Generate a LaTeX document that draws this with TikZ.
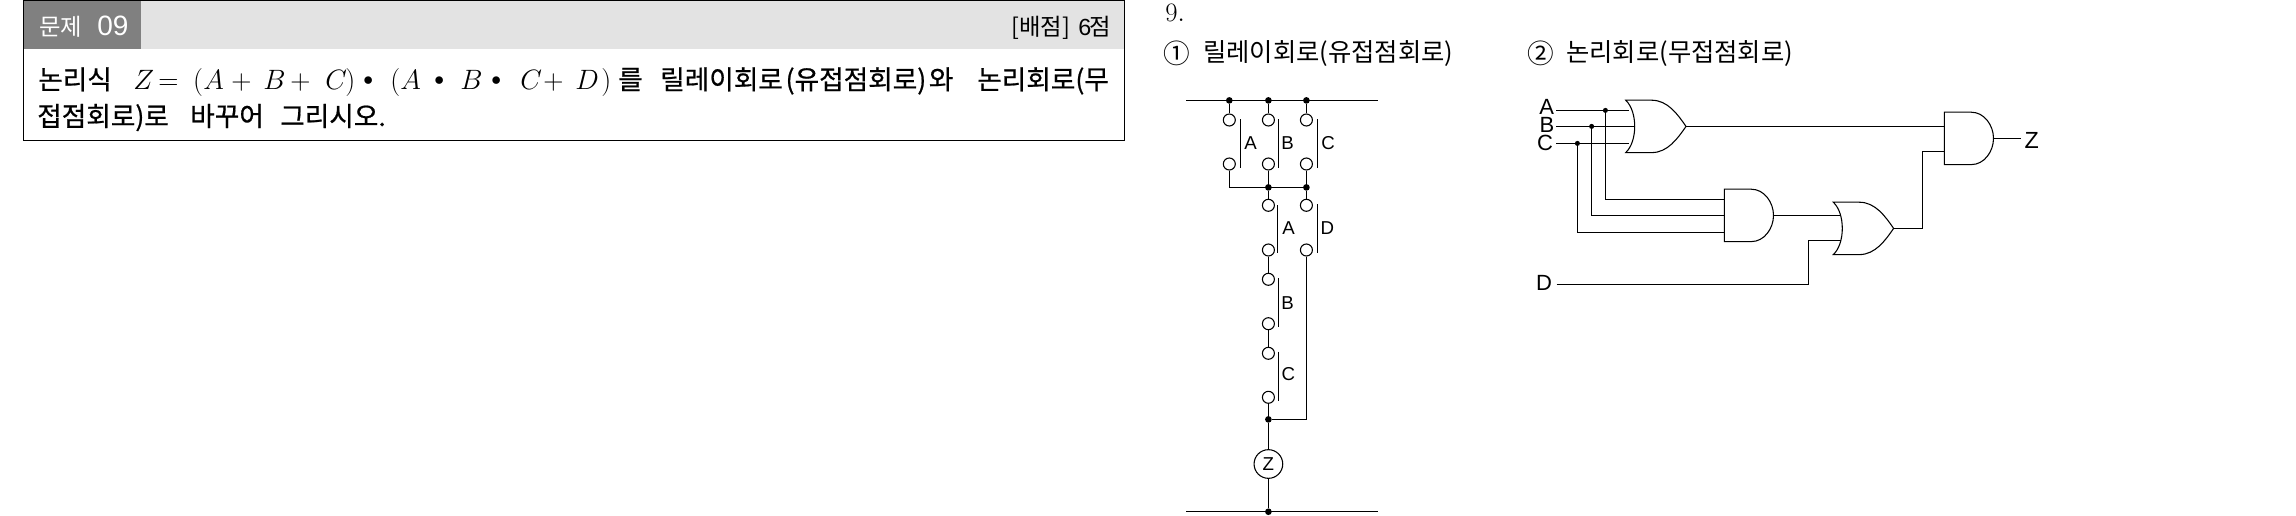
\documentclass[tikz,border=0pt]{standalone}
\usepackage{fix-cm}
\usepackage{fontspec}
\setmainfont{Liberation Sans}
\newfontfamily\krfont{Noto Sans CJK KR}
\newfontfamily\krheavy[FakeBold=0.7]{Noto Sans CJK KR}

\tikzset{
  wire/.style={line width=0.8pt},
  contact/.style={circle,draw,line width=0.8pt,fill=white,minimum size=9pt,inner sep=0pt},
  junction/.style={circle,fill=black,minimum size=5pt,inner sep=0pt},
  smalldot/.style={circle,fill=black,minimum size=3.8pt,inner sep=0pt},
  coil/.style={circle,draw,line width=0.8pt,minimum size=21.5pt,inner sep=0pt,font=\fontsize{14}{14}\selectfont},
  tag/.style={inner sep=0pt,font=\fontsize{14}{14}\selectfont},
  biglabel/.style={inner sep=0pt,font=\fontsize{16.5}{16.5}\selectfont},
  qtext/.style={inner sep=0pt,anchor=base west,font=\krheavy\fontsize{20}{20}\selectfont},
  qmath/.style={inner sep=0pt,anchor=base west,font=\fontsize{21}{21}\selectfont},
  head/.style={inner sep=0pt,anchor=base west,font=\krfont\fontsize{17.5}{17.5}\selectfont},
  digits/.style={inner sep=0pt,anchor=base west,font=\fontsize{21}{21}\selectfont},
  title/.style={inner sep=0pt,anchor=base west,font=\krfont\fontsize{19}{19}\selectfont},
  circled/.style={inner sep=0pt,anchor=center,font=\krfont\fontsize{20}{20}\selectfont}
}

% one glyph of the formula in a box of #1 pixels
\newcommand{\mc}[2]{\makebox[\dimexpr0.75pt*#1\relax][l]{$#2$}}
\newcommand{\dotop}[1]{\makebox[\dimexpr0.75pt*#1\relax][l]{\raisebox{3pt}{$\scriptstyle\bullet$}}}

\newcommand{\OrGate}[3]{
  \begin{scope}[shift={(#2,#3)}]
    \draw[wire] (0,-26.2) .. controls (12,-15) and (12,15) .. (0,26.2)
      -- (26,26.2) .. controls (42,26.2) and (52,12) .. (60.3,0)
      .. controls (52,-12) and (42,-26.2) .. (26,-26.2) -- cycle;
    \coordinate (#1) at (60.3,0);
  \end{scope}
}
\newcommand{\AndGate}[3]{
  \begin{scope}[shift={(#2,#3)}]
    \draw[wire] (0,-26.2) -- (27,-26.2) .. controls (40,-26.2) and (49.2,-13) .. (49.2,0)
      .. controls (49.2,13) and (40,26.2) .. (27,26.2) -- (0,26.2) -- cycle;
    \coordinate (#1) at (49.2,0);
  \end{scope}
}

\begin{document}
\begin{tikzpicture}[x=0.75pt,y=-0.75pt]
  \useasboundingbox (0,0) rectangle (2296,515);

  % question box
  \fill[black!11] (23.3,0.7) rectangle (1124.7,49.3);
  \fill[black!50] (23.3,0.7) rectangle (140.7,49.3);
  \draw[wire] (23.3,0.7) rectangle (1124.7,140.3);
  \node[head,text=white] (qword) at (39,35){문제};
  \node[digits,text=white] (qnum) at (97,35){09};
  \node[head] (qpoints) at (1011,35){[배점]};
  \node[head,font=\fontsize{17.5}{17.5}\selectfont] (qsix) at (1078,35){6};
  \node[head] (qpt) at (1089,35){점};
  \node[qtext] (qa) at (38,89.3){논리식};
  \node[qmath] (qexpr) at (133,89.3)
    {\mc{25}{Z}\mc{35}{=}\mc{10}{(}\mc{28}{A}\mc{32}{+}\mc{27}{B}\mc{35}{+}\mc{20}{C}\mc{18}{)}\dotop{27}\mc{10}{(}\mc{34}{A}\dotop{26}\mc{31}{B}\dotop{29}\mc{23}{C}\mc{32}{+}\mc{26}{D}\mc{10}{)}};
  \node[qtext] (qb) at (618,89.3){를};
  \node[qtext] (qc) at (660,89.3){릴레이회로\hspace{2pt}(유접점회로)\hspace{2pt}와};
  \node[qtext] (qd) at (977,89.3){논리회로(무};
  \node[qtext] (qe) at (37,126){접점회로)로};
  \node[qtext] (qf) at (190,126){바꾸어};
  \node[qtext] (qg) at (280,126){그리시오.};

  % answer headings
  \node[digits,font=\fontsize{20}{20}\selectfont] (ansnum) at (1165,21){$9.$};
  \node[circled] (relaynum) at (1176.5,53){①};
  \node[title] (relayhead) at (1203,61){릴레이회로(유접점회로)};
  \node[circled] (logicnum) at (1541,53){②};
  \node[title] (logichead) at (1566,61){논리회로(무접점회로)};

  % relay rails
  \coordinate (railTL) at (1186,100.4);
  \coordinate (railTR) at (1378,100.4);
  \coordinate (railBL) at (1186,511.7);
  \coordinate (railBR) at (1378,511.7);
  \draw[wire] (railTL) -- (railTR);
  \draw[wire] (railBL) -- (railBR);

  % relay nodes
  \node[junction] (j1) at (1229.3,100.4){};
  \node[junction] (j2) at (1268.4,100.4){};
  \node[junction] (j3) at (1306.4,100.4){};
  \node[contact] (a1) at (1229.3,120){};
  \node[contact] (b1) at (1268.4,120){};
  \node[contact] (c1) at (1306.4,120){};
  \node[contact] (a2) at (1229.3,164){};
  \node[contact] (b2) at (1268.4,164){};
  \node[contact] (c2) at (1306.4,164){};
  \node[junction] (j4) at (1268.4,187.4){};
  \node[junction] (j5) at (1306.4,187.4){};
  \node[contact] (a3) at (1268.4,205.3){};
  \node[contact] (d3) at (1306.4,205.3){};
  \node[contact] (a4) at (1268.4,250){};
  \node[contact] (d4) at (1306.4,250){};
  \node[contact] (b5) at (1268.4,279.3){};
  \node[contact] (b6) at (1268.4,323.7){};
  \node[contact] (c7) at (1268.4,353.3){};
  \node[contact] (c8) at (1268.4,397.3){};
  \node[junction] (j6) at (1268.4,419.4){};
  \node[coil] (zcoil) at (1268.4,464){Z};
  \node[junction] (j7) at (1268.4,511.7){};

  % relay wires
  \draw[wire] (j1) -- (a1);
  \draw[wire] (j2) -- (b1);
  \draw[wire] (j3) -- (c1);
  \draw[wire] (a2) |- (j5);
  \draw[wire] (b2) -- (j4);
  \draw[wire] (c2) -- (j5);
  \draw[wire] (j4) -- (a3);
  \draw[wire] (j5) -- (d3);
  \draw[wire] (a4) -- (b5);
  \draw[wire] (b6) -- (c7);
  \draw[wire] (c8) -- (j6);
  \draw[wire] (d4) |- (j6);
  \draw[wire] (j6) -- (zcoil);
  \draw[wire] (zcoil) -- (j7);

  % relay contact bars
  \coordinate (barA1) at (1240.7,119);
  \coordinate (barA2) at (1240.7,167.7);
  \coordinate (barB1) at (1278.7,119);
  \coordinate (barB2) at (1278.7,167.7);
  \coordinate (barC1) at (1317.3,119);
  \coordinate (barC2) at (1317.3,167.7);
  \coordinate (barD1) at (1277.3,205);
  \coordinate (barD2) at (1277.3,253);
  \coordinate (barE1) at (1317.3,204);
  \coordinate (barE2) at (1317.3,253);
  \coordinate (barF1) at (1278.7,278);
  \coordinate (barF2) at (1278.7,326.7);
  \coordinate (barG1) at (1278.7,351.7);
  \coordinate (barG2) at (1278.7,400.7);
  \draw[wire] (barA1) -- (barA2);
  \draw[wire] (barB1) -- (barB2);
  \draw[wire] (barC1) -- (barC2);
  \draw[wire] (barD1) -- (barD2);
  \draw[wire] (barE1) -- (barE2);
  \draw[wire] (barF1) -- (barF2);
  \draw[wire] (barG1) -- (barG2);

  % relay labels
  \node[tag] (la) at (1250.7,143){A};
  \node[tag] (lb) at (1287.7,143){B};
  \node[tag] (lc) at (1328,143){C};
  \node[tag] (ld) at (1288.7,228.3){A};
  \node[tag] (le) at (1327.3,228.3){D};
  \node[tag] (lf) at (1287.7,302.7){B};
  \node[tag] (lg) at (1288.3,374.3){C};

  % logic circuit
  \OrGate{orA}{1625.7}{126.4}
  \AndGate{andA}{1724.3}{215.4}
  \OrGate{orB}{1833.3}{228.4}
  \AndGate{andB}{1944.3}{138.4}

  \node[biglabel] (inA) at (1546.7,106.7){A};
  \node[biglabel] (inB) at (1547,125){B};
  \node[biglabel] (inC) at (1545,142.7){C};
  \node[biglabel] (inD) at (1544,283.3){D};
  \node[biglabel,font=\fontsize{17.5}{17.5}\selectfont] (outZ) at (2031.7,140){Z};

  \coordinate (stA) at (1556,110.4);
  \coordinate (stB) at (1556,126.4);
  \coordinate (stC) at (1556,143.4);
  \coordinate (stD) at (1556.7,284.4);
  \coordinate (bendD) at (1808.4,284.4);
  \coordinate (bendO) at (1922.6,228.4);
  \coordinate (orAa) at (1629.3,110.4);
  \coordinate (orAb) at (1634.5,126.4);
  \coordinate (orAc) at (1629.3,143.4);
  \coordinate (andAa) at (1724.3,199.4);
  \coordinate (andAb) at (1724.3,215.4);
  \coordinate (andAc) at (1724.3,232.4);
  \coordinate (orBa) at (1841,215.4);
  \coordinate (orBb) at (1841,240.4);
  \coordinate (andBa) at (1944.3,126.4);
  \coordinate (andBb) at (1944.3,151.4);
  \coordinate (endZ) at (2020.7,138.4);
  \node[smalldot] (dotA) at (1605.4,110.4){};
  \node[smalldot] (dotB) at (1591.6,126.4){};
  \node[smalldot] (dotC) at (1577.4,143.4){};

  \draw[wire] (stA) -- (orAa);
  \draw[wire] (stB) -- (orAb);
  \draw[wire] (stC) -- (orAc);
  \draw[wire] (dotA) |- (andAa);
  \draw[wire] (dotB) |- (andAb);
  \draw[wire] (dotC) |- (andAc);
  \draw[wire] (orA) -- (andBa);
  \draw[wire] (andA) -- (orBa);
  \draw[wire] (stD) -- (bendD) |- (orBb);
  \draw[wire] (orB) -- (bendO) |- (andBb);
  \draw[wire] (andB) -- (endZ);
\end{tikzpicture}
\end{document}
